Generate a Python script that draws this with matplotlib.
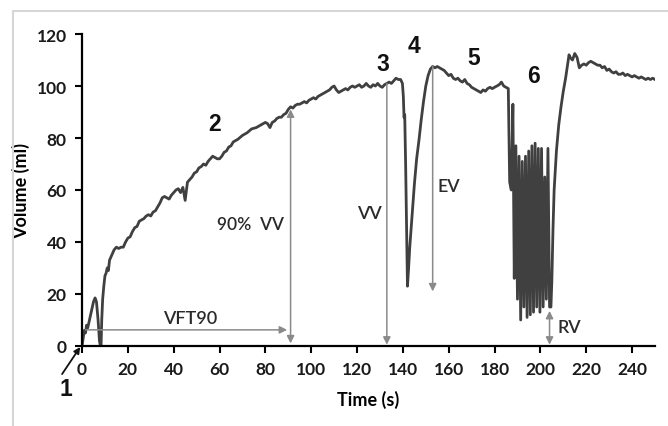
import matplotlib
matplotlib.use("Agg")
import matplotlib.pyplot as plt
from matplotlib.lines import Line2D
import numpy as np

# --- volume trace, phase by phase ---
# 1-2: filling
t_fill = [0, 0.5, 1, 1.5, 2, 2.5, 3, 4, 5, 5.7, 6.3, 7, 7.6, 8, 8.3, 8.6, 9, 9.5, 10,
          10.5, 11, 11.5, 12, 13, 14, 15, 16, 17, 18, 19, 20, 21, 22, 23, 24, 25, 26,
          27, 28, 29, 30, 31, 32, 33, 34, 35, 36, 37, 38, 39, 40, 41, 42, 43, 44, 45,
          46, 47, 48, 49, 50, 51, 52, 53, 54, 55, 56, 57, 58, 59, 60, 61, 62, 63, 64,
          65, 66, 67, 68, 70, 72, 74, 76, 78, 80, 81, 82, 83, 84, 85, 86, 87, 88, 89,
          90, 91, 92, 93, 94, 95, 96, 97, 98, 99, 100, 101, 102, 103, 104, 105, 106,
          107, 108, 109, 110, 111, 112, 113, 114, 115, 116, 117, 118, 119, 120, 121,
          122, 123, 124, 125, 126, 127, 128, 129, 130, 131, 132, 133, 134, 135, 136,
          137, 138, 139]
v_fill = [0, 3, 6, 5, 8, 7, 9, 13, 17, 18.5, 17, 10, 2, 0, 0, 10, 18, 23, 27,
          28, 30, 29, 33, 35, 37, 38, 37.5, 38, 38, 40, 41.5, 42, 44, 45.5, 46, 48, 48.5,
          49, 50, 50.5, 50, 51.5, 52, 53.5, 55, 57, 57.5, 57, 56.5, 58, 59, 60, 60.5, 59, 61, 56,
          63, 64, 65, 66.5, 67, 68.5, 69, 70, 69.5, 71, 72, 73, 72.5, 72, 72, 73, 74.5, 75, 76.5,
          77, 78.5, 79, 79.5, 81, 82, 83.5, 84, 85, 86, 85.5, 84, 86, 86.5, 87.5, 88, 88, 89, 89.5,
          91, 92, 91.5, 92.5, 93, 93, 93.5, 94, 93.5, 94.5, 95, 95.5, 95, 96, 96.5, 97, 97.5,
          98, 98.5, 99.5, 100, 98.5, 97.5, 98, 98.5, 99, 98.5, 99.5, 100, 99.5, 100, 100.5,
          99.5, 100, 101, 100, 99.5, 100.5, 100, 101, 100, 99.5, 100.5, 101, 101.5, 101, 102,
          103, 102.5, 102.5]

# 3-4: void and refill
t_void = [139.8, 140.2, 140.5, 140.8, 141.2, 141.6, 142, 142.5, 143, 144, 145, 146, 147,
          148, 149, 150, 151, 152, 153, 154, 155, 156, 157, 158, 159, 160, 161, 162,
          163, 164, 165, 166, 167, 168, 169, 170, 171, 172, 173, 174, 175, 176, 177,
          178, 179, 180, 181, 182, 183, 184, 185, 186]
v_void = [101, 96, 88, 89, 70, 45, 23, 30, 38, 50, 62, 72, 79,
          87, 94, 100, 104, 106.5, 107.5, 107, 107.5, 107, 106.5, 106, 105, 104, 104.5, 103,
          102.5, 103, 102, 101.5, 102.5, 101, 100.5, 99.5, 99, 98.5, 98, 97.5, 98.5, 98, 99,
          99.5, 99, 99.5, 100, 100.5, 101.5, 100, 99.5, 99]

# 6: straining / oscillation
t_osc = [186.6, 187.3, 188.0, 188.6, 189.3, 190.0, 190.7, 191.4, 192.1, 192.8, 193.5,
         194.2, 194.9, 195.6, 196.3, 197.0, 197.7, 198.4, 199.1, 199.8, 200.5, 201.2,
         201.9, 202.6, 203.3, 204.0, 204.6]
v_osc = [63, 60, 93, 26, 77, 18, 73, 10, 71, 15, 73,
         11, 75, 12, 77, 13, 78, 15, 76, 13, 76, 15,
         65, 18, 76, 15, 15]

# recovery
t_rec = [205, 205.5, 206, 207, 208, 209, 210, 211, 212, 212.5, 213, 214, 215, 216, 217,
         218, 219, 220, 221, 222, 223, 224, 225, 226, 227, 228, 229, 230, 231, 232, 233,
         234, 235, 236, 237, 238, 239, 240, 241, 242, 243, 244, 245, 246, 247, 248, 249, 250]
v_rec = [25, 45, 60, 75, 85, 92, 98, 103, 109, 112, 111, 110, 112.5, 111, 107,
         108, 108.5, 108, 109, 109.5, 109, 108.5, 108, 108, 107, 107.5, 106, 106.5, 105.5, 105, 105.5,
         104.5, 104.5, 105, 104, 104.5, 104, 103.5, 104, 103.5, 103, 103.5, 103, 102.5, 103, 102.5, 103, 102.5]

time = np.array(t_fill + t_void + t_osc + t_rec)
volume = np.array(v_fill + v_void + v_osc + v_rec)

xticks = list(range(0, 241, 20))
yticks = list(range(0, 121, 20))

# phase numbers and where they sit
phase_lbl = ['2', '3', '4', '5', '6']
phase_x = [58, 131.4, 145, 171, 197]
phase_y = [85.4, 108.5, 115.4, 111, 104]

GREY = '#8a8a8a'
LINE = '#404040'
TXT = '#2a2a2a'

fig = plt.figure(figsize=(6.68, 4.27), dpi=100)
fig.patch.set_facecolor('white')
ax = fig.add_axes([0.1228, 0.1874, 0.8577, 0.7306])

ax.plot(time, volume, color=LINE, lw=2.0, solid_joinstyle='round')

ax.set_xlim(0, 250)
ax.set_ylim(0, 120)
ax.set_xticks(xticks)
ax.set_yticks(yticks)
for s in ['top', 'right']:
    ax.spines[s].set_visible(False)
for s in ['left', 'bottom']:
    ax.spines[s].set_linewidth(1.6)
ax.tick_params(direction='out', length=5, width=1.5, pad=6, labelsize=12.5, labelcolor='#1a1a1a')
for lab in ax.get_xticklabels() + ax.get_yticklabels():
    lab.set_fontfamily('Lato')
    lab.set_fontweight('bold')
ax.set_xlabel('Time (s)', fontfamily='Lato', fontweight='bold', fontsize=13, labelpad=9)
ax.set_ylabel('Volume (ml)', fontfamily='Lato', fontweight='bold', fontsize=13, labelpad=5)

def arrow(x0, y0, x1, y1, style='-|>', color=GREY, lw=1.1, ms=11):
    ax.annotate('', xy=(x1, y1), xytext=(x0, y0),
                arrowprops=dict(arrowstyle=style, color=color, lw=lw,
                                mutation_scale=ms, shrinkA=0, shrinkB=0),
                annotation_clip=False)

lbl_kw = dict(fontsize=13, fontfamily='Lato', fontweight='semibold', color=TXT, va='center')
# VFT90
arrow(1.5, 6.2, 89.5, 6.2)
ax.text(47, 10.8, 'VFT90', ha='center', **lbl_kw)
# 90% VV
arrow(91, 1, 91, 91, style='<|-|>')
ax.text(88, 47, '90%  VV', ha='right', **dict(lbl_kw, fontsize=12.5))
# VV
arrow(133, 101, 133, 0.5)
ax.text(125.5, 51, 'VV', ha='center', **lbl_kw)
# EV
arrow(153, 107.5, 153, 21)
ax.text(155, 61.5, 'EV', ha='left', **lbl_kw)
# RV
arrow(204, 0.5, 204, 13.5, style='<|-|>')
ax.text(207.5, 7.3, 'RV', ha='left', **lbl_kw)

for lbl, x, y in zip(phase_lbl, phase_x, phase_y):
    ax.text(x, y, lbl, fontsize=16.5, fontweight='bold', fontfamily='Liberation Sans',
            ha='center', va='center', color='#111111')

# phase 1 at the origin
arrow(-8.7, -10.8, -0.8, -0.4, color='#111111', lw=1.3, ms=9)
ax.text(-7, -16.5, '1', fontsize=16.5, fontweight='bold', fontfamily='Liberation Sans',
        ha='center', va='center', color='#111111', clip_on=False)

# light frame of the original figure
fig.add_artist(Line2D([13 / 668, 1], [1 - 12 / 427] * 2, transform=fig.transFigure,
                      color='#d6d6d6', lw=1.5))
fig.add_artist(Line2D([13 / 668] * 2, [0, 1 - 12 / 427], transform=fig.transFigure,
                      color='#d6d6d6', lw=1.5))

fig.savefig('out.png', dpi=100)
